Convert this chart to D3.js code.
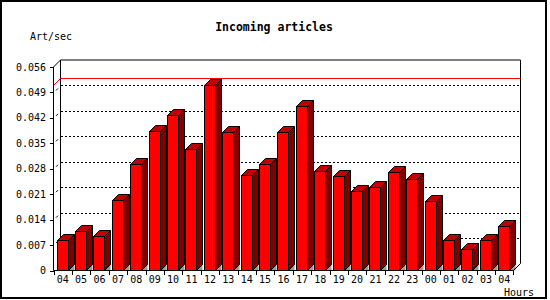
<!DOCTYPE html>
<html>
<head>
<meta charset="utf-8">
<script src="https://cdn.jsdelivr.net/npm/d3@7"></script>
<style>
  body { margin: 0; background: #fff; }
  text { font-family: "DejaVu Sans Mono", monospace; }
  line { shape-rendering: crispEdges; }
</style>
</head>
<body>
<div id="chart"></div>
<script>
// horas (eixo x) e taxa de artigos por segundo
var hours = ['04','05','06','07','08','09','10','11','12','13','14','15','16',
             '17','18','19','20','21','22','23','00','01','02','03','04'];
var artPerSec = [0.0083, 0.0108, 0.0096, 0.0195, 0.0292, 0.0383, 0.0427, 0.0335,
                 0.0510, 0.0380, 0.0262, 0.0294, 0.0380, 0.0454, 0.0275, 0.0261,
                 0.0220, 0.0231, 0.0270, 0.0253, 0.0190, 0.0085, 0.0060, 0.0085, 0.0123];
var yTicks = [0, 0.007, 0.014, 0.021, 0.028, 0.035, 0.042, 0.049, 0.056];

var W = 550, H = 300;
var x0 = 53.5, x1 = 513.5, y0 = 270.5, yTop = 67;
var depth = 7;     // profundidade do plano de fundo
var bd = 6;        // profundidade das barras

var svg = d3.select('#chart').append('svg')
  .attr('width', W)
  .attr('height', H);

// moldura
svg.append('rect')
  .attr('x', 1).attr('y', 1)
  .attr('width', 545).attr('height', 297)
  .attr('fill', '#fff')
  .attr('stroke', '#000')
  .attr('stroke-width', 2);

var x = d3.scaleBand()
  .domain(d3.range(hours.length))
  .range([x0, x1])
  .padding(0);

var y = d3.scaleLinear()
  .domain([0, 0.056])
  .range([y0, yTop]);

// plano de fundo
svg.append('path')
  .attr('d', 'M' + (x0 + depth) + ',' + (y0 - depth) + 'V' + (yTop - depth) +
             'H' + (x1 + depth) + 'V' + (y0 - depth))
  .attr('fill', 'none')
  .attr('stroke', '#000');

// linhas de grade pontilhadas
svg.selectAll('.grid')
  .data(yTicks.filter(function(d) { return d > 0 && d < 0.056; }))
  .enter().append('line')
  .attr('x1', x0 + depth)
  .attr('x2', x1 + depth)
  .attr('y1', function(d) { return Math.round(y(d) - depth) + 0.5; })
  .attr('y2', function(d) { return Math.round(y(d) - depth) + 0.5; })
  .attr('stroke', '#000')
  .attr('stroke-dasharray', '2,2');

// pequenas marcas diagonais
svg.selectAll('.slash')
  .data(yTicks.filter(function(d) { return d > 0 && d < 0.056; }))
  .enter().append('path')
  .attr('d', function(d) {
    return 'M' + (x0 + 2.5) + ',' + (y(d) - 2) + 'L' + (x0 + 4.5) + ',' + (y(d) - 4);
  })
  .attr('stroke', '#000');

// linha do valor maximo
var yMax = Math.round(y(d3.max(artPerSec))) + 0.5;
svg.append('path')
  .attr('d', 'M' + x0 + ',' + yMax + 'L' + (x0 + depth) + ',' + (yMax - depth) +
             'H' + (x1 + depth))
  .attr('fill', 'none')
  .attr('stroke', '#f00');

// barras 3D
var bars = svg.selectAll('.bar')
  .data(artPerSec)
  .enter().append('g');

function bx(i) { return Math.round(x(i) + 3) + 0.5; }
var bw = 11;

bars.append('path') // sombra
  .attr('d', function(d, i) {
    var r = bx(i) + bw;
    return 'M' + r + ',' + y0 + 'L' + (r + bd) + ',' + (y0 - bd) + 'V' + y0 + 'Z';
  })
  .attr('fill', '#999');

bars.append('path') // lateral
  .attr('d', function(d, i) {
    var r = bx(i) + bw, t = Math.round(y(d)) + 0.5;
    return 'M' + r + ',' + t + 'L' + (r + bd) + ',' + (t - bd) + 'V' + (y0 - bd) +
           'L' + r + ',' + y0 + 'Z';
  })
  .attr('fill', '#800000')
  .attr('stroke', '#000');

bars.append('path') // topo
  .attr('d', function(d, i) {
    var l = bx(i), t = Math.round(y(d)) + 0.5;
    return 'M' + l + ',' + t + 'L' + (l + bd) + ',' + (t - bd) + 'H' + (l + bw + bd) +
           'L' + (l + bw) + ',' + t + 'Z';
  })
  .attr('fill', '#c00000')
  .attr('stroke', '#000');

bars.append('rect') // frente
  .attr('x', function(d, i) { return bx(i); })
  .attr('y', function(d) { return Math.round(y(d)) + 0.5; })
  .attr('width', bw)
  .attr('height', function(d) { return y0 - (Math.round(y(d)) + 0.5); })
  .attr('fill', '#f00')
  .attr('stroke', '#000');

// eixos frontais
svg.append('path')
  .attr('d', 'M' + (x0 + depth) + ',' + (yTop - depth) + 'L' + x0 + ',' + yTop +
             'V' + y0 + 'H' + x1 + 'L' + (x1 + depth) + ',' + (y0 - depth))
  .attr('fill', 'none')
  .attr('stroke', '#000');

// eixo y
svg.selectAll('.ytick')
  .data(yTicks)
  .enter().append('line')
  .attr('x1', x0 - 4).attr('x2', x0)
  .attr('y1', function(d) { return Math.round(y(d)) + 0.5; })
  .attr('y2', function(d) { return Math.round(y(d)) + 0.5; })
  .attr('stroke', '#000');

svg.selectAll('.ylabel')
  .data(yTicks)
  .enter().append('text')
  .attr('x', 46)
  .attr('y', function(d) { return y(d) + 3.5; })
  .attr('text-anchor', 'end')
  .attr('font-size', 10)
  .text(function(d) { return d === 0 ? '0' : d3.format('.3f')(d); });

// eixo x
svg.selectAll('.xtick')
  .data(d3.range(hours.length + 1))
  .enter().append('line')
  .attr('x1', function(i) { return i < hours.length ? Math.round(x(i)) + 0.5 : x1; })
  .attr('x2', function(i) { return i < hours.length ? Math.round(x(i)) + 0.5 : x1; })
  .attr('y1', y0).attr('y2', y0 + 4)
  .attr('stroke', '#000');

svg.selectAll('.xlabel')
  .data(hours)
  .enter().append('text')
  .attr('x', function(d, i) { return x(i) + x.bandwidth() / 2; })
  .attr('y', 283)
  .attr('text-anchor', 'middle')
  .attr('font-size', 10)
  .text(function(d) { return d; });

// titulos
svg.append('text')
  .attr('x', 274).attr('y', 31)
  .attr('text-anchor', 'middle')
  .attr('font-size', 11.5)
  .attr('font-weight', 'bold')
  .text('Incoming articles');

svg.append('text')
  .attr('x', 30).attr('y', 40)
  .attr('font-size', 10)
  .text('Art/sec');

svg.append('text')
  .attr('x', 534).attr('y', 296)
  .attr('text-anchor', 'end')
  .attr('font-size', 10)
  .text('Hours');
</script>
</body>
</html>
